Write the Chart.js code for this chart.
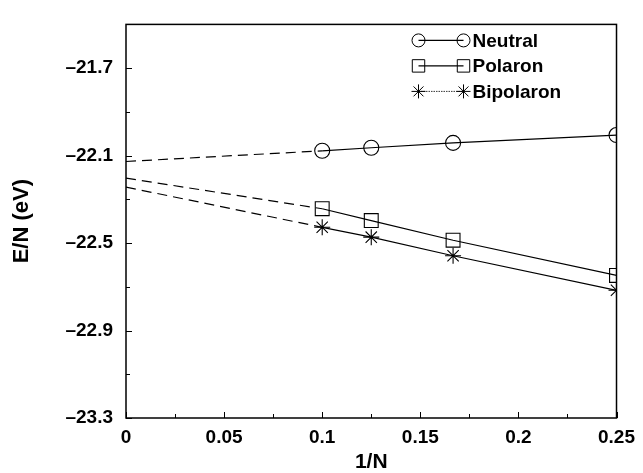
<!DOCTYPE html>
<html>
<head>
<meta charset="utf-8">
<script src="https://cdn.jsdelivr.net/npm/chart.js@4.4.0/dist/chart.umd.min.js"></script>
<style>
  html, body { margin: 0; padding: 0; background: #fff; }
  #wrap { width: 643px; height: 473px; }
</style>
</head>
<body>
<div id="wrap"><canvas id="energy-chart" width="643" height="473"></canvas></div>
<script>
'use strict';
// 1/N values of the computed chains (N = 10, 8, 6, 4)
var invN = [0.1, 0.125, 0.1667, 0.25];
var neutral = [-22.078, -22.064, -22.042, -22.006];
var polaron = [-22.343, -22.397, -22.487, -22.648];
var bipolaron = [-22.428, -22.473, -22.558, -22.716];

// extrapolation to 1/N -> 0 (dashed)
var extrapX = [0, 0.1];
var neutralExtrap = [-22.127, -22.078];
var polaronExtrap = [-22.203, -22.343];
var bipolaronExtrap = [-22.244, -22.428];

var seriesNames = ['Neutral', 'Polaron', 'Bipolaron'];
var xTicks = [0, 0.025, 0.05, 0.075, 0.1, 0.125, 0.15, 0.175, 0.2, 0.225, 0.25];
var xLabels = ['0', '', '0.05', '', '0.1', '', '0.15', '', '0.2', '', '0.25'];
var yTicks = [-23.3, -23.1, -22.9, -22.7, -22.5, -22.3, -22.1, -21.9, -21.7, -21.5];
var yLabels = ['\u201323.3', '', '\u201322.9', '', '\u201322.5', '', '\u201322.1', '', '\u201321.7', ''];

var fontFam = "'Liberation Sans', Arial, Helvetica, sans-serif";

function toPoints(xs, ys) {
  var pts = [];
  for (var i = 0; i < xs.length; i++) {
    pts.push({x: xs[i], y: ys[i]});
  }
  return pts;
}

function solidSet(label, ys, style, radius) {
  return {
    label: label,
    data: toPoints(invN, ys),
    borderColor: '#000',
    borderWidth: 1.2,
    backgroundColor: 'rgba(0,0,0,0)',
    pointStyle: style,
    pointRadius: radius,
    pointBorderColor: '#000',
    pointBorderWidth: 1.1,
    pointBackgroundColor: 'rgba(0,0,0,0)',
    showLine: true,
    tension: 0
  };
}

function dashedSet(ys) {
  return {
    label: '',
    data: toPoints(extrapX, ys),
    borderColor: '#000',
    borderWidth: 1.2,
    borderDash: [10, 6],
    pointRadius: 0,
    showLine: true,
    tension: 0
  };
}

var markerStyles = [
  {pointStyle: 'circle', radius: 7.5},
  {pointStyle: 'rect', radius: 9.8},
  {pointStyle: 'star', radius: 8}
];

// inward tick marks + box around the plot
var frameTicks = {
  id: 'frameTicks',
  afterDraw: function(chart) {
    var ctx = chart.ctx;
    var a = chart.chartArea;
    var xs = chart.scales.x;
    var ys = chart.scales.y;
    ctx.save();
    ctx.strokeStyle = '#000';
    ctx.lineWidth = 1;
    for (var i = 0; i < xs.ticks.length; i++) {
      var px = Math.round(xs.getPixelForValue(xs.ticks[i].value)) + 0.5;
      var len = xLabels[i] ? 6 : 4;
      ctx.beginPath();
      ctx.moveTo(px, a.bottom);
      ctx.lineTo(px, a.bottom - len);
      ctx.stroke();
    }
    for (var j = 0; j < ys.ticks.length; j++) {
      var py = Math.round(ys.getPixelForValue(ys.ticks[j].value)) + 0.5;
      var ylen = yLabels[j] ? 6 : 4;
      ctx.beginPath();
      ctx.moveTo(a.left, py);
      ctx.lineTo(a.left + ylen, py);
      ctx.stroke();
    }
    ctx.lineWidth = 1.5;
    ctx.strokeRect(a.left, a.top, a.right - a.left, a.bottom - a.top);
    ctx.restore();
  }
};

// legend: marker - line - marker, name
var lineLegend = {
  id: 'lineLegend',
  afterDraw: function(chart) {
    var ctx = chart.ctx;
    var a = chart.chartArea;
    var x1 = a.right - 198;
    var x2 = a.right - 153;
    var y0 = a.top + 16;
    var rowH = 25.5;
    ctx.save();
    for (var i = 0; i < seriesNames.length; i++) {
      var y = y0 + i * rowH;
      ctx.strokeStyle = '#000';
      ctx.lineWidth = i === 2 ? 0.8 : 1.2;
      ctx.setLineDash(i === 2 ? [1.5, 1] : []);
      ctx.beginPath();
      ctx.moveTo(x1, y);
      ctx.lineTo(x2, y);
      ctx.stroke();
      ctx.setLineDash([]);
      ctx.fillStyle = 'rgba(0,0,0,0)';
      var opt = {pointStyle: markerStyles[i].pointStyle, radius: markerStyles[i].radius - 1, rotation: 0, borderWidth: 1};
      ctx.lineWidth = 1;
      Chart.helpers.drawPoint(ctx, opt, x1, y);
      Chart.helpers.drawPoint(ctx, opt, x2, y);
      ctx.fillStyle = '#000';
      ctx.font = 'bold 19px ' + fontFam;
      ctx.textAlign = 'left';
      ctx.textBaseline = 'middle';
      ctx.fillText(seriesNames[i], x2 + 9, y + 1);
    }
    ctx.restore();
  }
};

function drawChart() {
  var ctx = document.getElementById('energy-chart');
  new Chart(ctx, {
    type: 'scatter',
    data: {
      datasets: [
        dashedSet(neutralExtrap),
        dashedSet(polaronExtrap),
        dashedSet(bipolaronExtrap),
        solidSet(seriesNames[0], neutral, markerStyles[0].pointStyle, markerStyles[0].radius),
        solidSet(seriesNames[1], polaron, markerStyles[1].pointStyle, markerStyles[1].radius),
        solidSet(seriesNames[2], bipolaron, markerStyles[2].pointStyle, markerStyles[2].radius)
      ]
    },
    options: {
      responsive: false,
      animation: false,
      devicePixelRatio: 1,
      layout: {padding: {top: 17, right: 22, left: 0, bottom: 0}},
      plugins: {
        legend: {display: false},
        tooltip: {enabled: false}
      },
      scales: {
        x: {
          type: 'linear',
          min: 0,
          max: 0.25,
          grid: {display: false, drawTicks: false},
          border: {display: false},
          afterBuildTicks: function(scale) {
            scale.ticks = xTicks.map(function(v) { return {value: v}; });
          },
          afterFit: function(scale) { scale.height = 55; },
          ticks: {
            autoSkip: false,
            maxRotation: 0,
            padding: 8,
            color: '#000',
            font: {family: fontFam, size: 19, weight: 'bold'},
            callback: function(value, index) { return xLabels[index]; }
          },
          title: {
            display: true,
            text: '1/N',
            color: '#000',
            padding: {top: 0, bottom: 0},
            font: {family: fontFam, size: 21, weight: 'bold', lineHeight: 1}
          }
        },
        y: {
          type: 'linear',
          min: -23.3,
          max: -21.5,
          grid: {display: false, drawTicks: false},
          border: {display: false},
          afterBuildTicks: function(scale) {
            scale.ticks = yTicks.map(function(v) { return {value: v}; });
          },
          afterFit: function(scale) { scale.width = 126; },
          ticks: {
            autoSkip: false,
            padding: 13,
            color: '#000',
            font: {family: fontFam, size: 19, weight: 'bold'},
            callback: function(value, index) { return yLabels[index]; }
          },
          title: {
            display: true,
            text: 'E/N (eV)',
            color: '#000',
            padding: {top: 11, bottom: 0},
            font: {family: fontFam, size: 22, weight: 'bold', lineHeight: 1}
          }
        }
      }
    },
    plugins: [frameTicks, lineLegend]
  });
}

drawChart();
</script>
</body>
</html>
